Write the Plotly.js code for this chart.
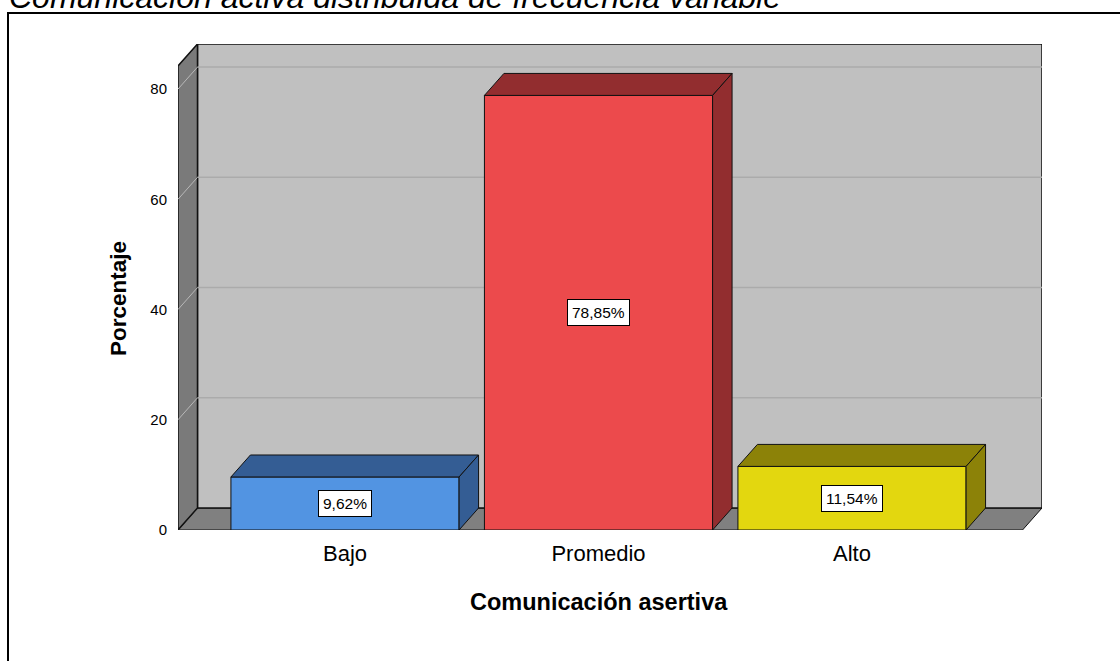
<!DOCTYPE html>
<html>
<head>
<meta charset="utf-8">
<script src="https://cdn.plot.ly/plotly-3.0.1.min.js"></script>
<style>html,body{margin:0;padding:0;background:#fff;}#chart{width:1120px;height:661px;}</style>
</head>
<body>
<div id="chart"></div>
<script>
// ---- data ----
const categories = ['Bajo', 'Promedio', 'Alto'];
const percentages = [9.62, 78.85, 11.54];
const labelTexts = ['9,62%', '78,85%', '11,54%'];
const yTicks = [0, 20, 40, 60, 80];
const frontColors = ['#5294E2', '#EC4A4C', '#E3D70F'];
const darkColors = ['#345D94', '#922D2F', '#8C8208'];

// ---- geometry (axis units) ----
const M = {l: 178, r: 78, t: 44, b: 131};
const W = 1120, H = 661;
const pw = W - M.l - M.r, ph = H - M.t - M.b;
const xRange = [-0.6588, 2.7495];
const yRange = [0, 88.18];
const DX = 0.0769;   // depth offset in x units
const DY = 3.99;     // depth offset in y units
const BW = 0.9;      // bar width

const xs = categories.map((c, i) => i);
const pxToPaperX = px => (px - M.l) / pw;
const pxToPaperY = py => 1 - (py - M.t) / ph;

const FONT = 'Liberation Sans, Arial, sans-serif';
const shapes = [];
// floor
const fx0 = xRange[0], fx1 = xRange[1] - DX;
shapes.push({type: 'path', layer: 'below', xref: 'x', yref: 'y',
  path: `M${fx0},0 L${fx1},0 L${xRange[1]},${DY} L${fx0 + DX},${DY} Z`,
  fillcolor: '#808080', line: {color: '#111', width: 1}});
// back wall
shapes.push({type: 'rect', layer: 'below', xref: 'x', yref: 'y',
  x0: fx0 + DX, x1: xRange[1], y0: DY, y1: yRange[1],
  fillcolor: '#C0C0C0', line: {color: '#111', width: 1.5}});
// left wall
shapes.push({type: 'path', layer: 'below', xref: 'x', yref: 'y',
  path: `M${fx0},0 L${fx0},${yRange[1] - DY} L${fx0 + DX},${yRange[1]} L${fx0 + DX},${DY} Z`,
  fillcolor: '#7A7A7A', line: {color: '#111', width: 1.5}});
// gridlines
yTicks.filter(v => v > 0).forEach(v => {
  shapes.push({type: 'line', layer: 'below', xref: 'x', yref: 'y',
    x0: fx0 + DX, x1: xRange[1], y0: v + DY, y1: v + DY,
    line: {color: '#ABABAB', width: 1.5}});
  shapes.push({type: 'line', layer: 'below', xref: 'x', yref: 'y',
    x0: fx0, x1: fx0 + DX, y0: v, y1: v + DY,
    line: {color: '#B8B8B8', width: 1}});
});
// outer frame
shapes.push({type: 'rect', xref: 'paper', yref: 'paper',
  x0: pxToPaperX(8), x1: pxToPaperX(1130), y0: pxToPaperY(13), y1: pxToPaperY(680),
  line: {color: '#000', width: 2}, fillcolor: 'rgba(0,0,0,0)'});

const traces = [];
traces.push({type: 'bar', x: xs, y: percentages, width: BW,
  marker: {color: frontColors, line: {color: '#111', width: 1}},
  hoverinfo: 'skip'});
percentages.forEach((v, i) => {
  const x0 = xs[i] - BW / 2, x1 = xs[i] + BW / 2;
  traces.push({type: 'scatter', mode: 'lines', fill: 'toself',
    x: [x0, x0 + DX, x1 + DX, x1, x0], y: [v, v + DY, v + DY, v, v],
    fillcolor: darkColors[i], line: {color: '#111', width: 1}, hoverinfo: 'skip'});
  traces.push({type: 'scatter', mode: 'lines', fill: 'toself',
    x: [x1, x1, x1 + DX, x1 + DX, x1], y: [0, v, v + DY, DY, 0],
    fillcolor: darkColors[i], line: {color: '#111', width: 1}, hoverinfo: 'skip'});
});

const annotations = percentages.map((v, i) => ({
  x: xs[i], y: v / 2, xref: 'x', yref: 'y', text: labelTexts[i], showarrow: false,
  font: {family: FONT, size: 15.5, color: '#000'}, bgcolor: '#fff',
  bordercolor: '#000', borderwidth: 1, borderpad: 4
}));
// chart caption (cut at the top edge as in the reference)
annotations.push({
  xref: 'paper', yref: 'paper', x: pxToPaperX(7), y: pxToPaperY(-3),
  xanchor: 'left', yanchor: 'middle', showarrow: false,
  text: '<i>Comunicación activa distribuida de frecuencia variable</i>',
  font: {family: FONT, size: 32, color: '#000'}
});
// axis titles
annotations.push({
  xref: 'x', yref: 'paper', x: xs[1], y: pxToPaperY(602),
  xanchor: 'center', yanchor: 'middle', showarrow: false,
  text: '<b>Comunicación asertiva</b>',
  font: {family: FONT, size: 23.5, color: '#000'}
});
annotations.push({
  xref: 'paper', yref: 'paper', x: pxToPaperX(118), y: pxToPaperY(299),
  xanchor: 'center', yanchor: 'middle', showarrow: false, textangle: -90,
  text: '<b>Porcentaje</b>',
  font: {family: FONT, size: 22.5, color: '#000'}
});

const layout = {
  width: W, height: H, margin: M, showlegend: false,
  paper_bgcolor: '#fff', plot_bgcolor: 'rgba(0,0,0,0)',
  xaxis: {range: xRange, tickvals: xs, ticktext: categories, showgrid: false, zeroline: false,
    showline: false, ticks: '', ticklabelstandoff: 8, fixedrange: true,
    tickfont: {family: FONT, size: 22, color: '#000'}},
  yaxis: {range: yRange, tickvals: yTicks, showgrid: false, zeroline: false, showline: false,
    ticks: '', ticklabelstandoff: 10, fixedrange: true,
    tickfont: {family: FONT, size: 15, color: '#000'}},
  shapes: shapes, annotations: annotations
};
Plotly.newPlot('chart', traces, layout, {displayModeBar: false, staticPlot: true});
</script>
</body>
</html>
